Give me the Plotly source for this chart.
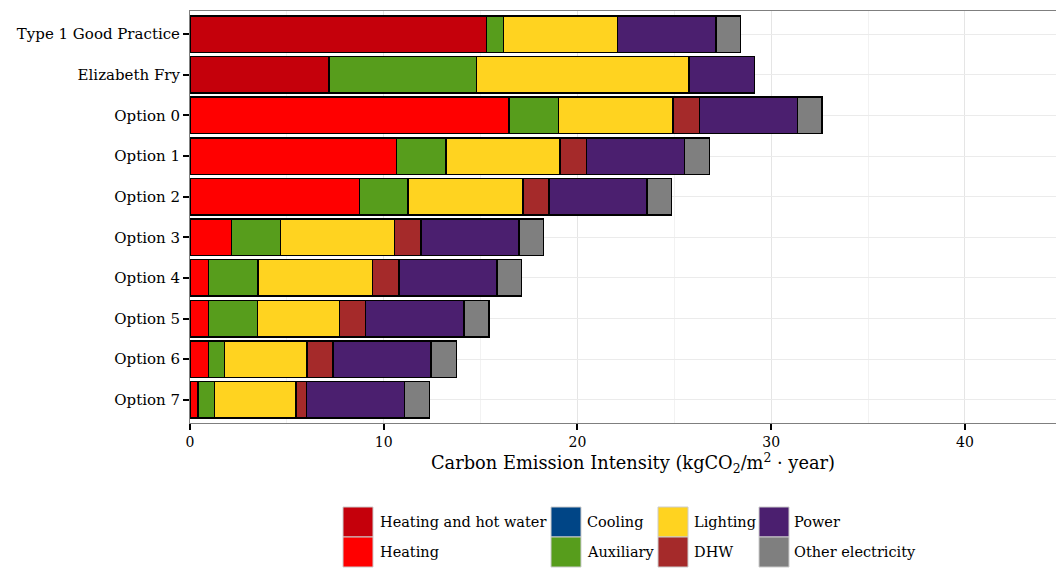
import plotly.graph_objects as go

categories = ["Type 1 Good Practice", "Elizabeth Fry", "Option 0", "Option 1", "Option 2",
              "Option 3", "Option 4", "Option 5", "Option 6", "Option 7"]

heating_hot_water = [15.30, 7.17, None, None, None, None, None, None, None, None]
heating = [None, None, 16.47, 10.67, 8.74, 2.13, 0.96, 0.95, 0.95, 0.40]
cooling = [None, None, None, None, None, None, None, None, None, None]
auxiliary = [0.87, 7.61, 2.54, 2.54, 2.52, 2.55, 2.54, 2.54, 0.84, 0.86]
lighting = [5.90, 10.97, 5.91, 5.89, 5.93, 5.88, 5.91, 4.23, 4.25, 4.21]
dhw = [None, None, 1.37, 1.37, 1.34, 1.37, 1.37, 1.35, 1.34, 0.55]
power = [5.07, 3.38, 5.06, 5.06, 5.07, 5.06, 5.06, 5.07, 5.06, 5.06]
other_electricity = [1.28, None, 1.28, 1.28, 1.26, 1.26, 1.26, 1.29, 1.31, 1.29]

x_ticks = [0, 10, 20, 30, 40]

series = [
    ("Heating and hot water", heating_hot_water, "#c5000b"),
    ("Heating", heating, "#ff0000"),
    ("Cooling", cooling, "#004586"),
    ("Auxiliary", auxiliary, "#579d1c"),
    ("Lighting", lighting, "#ffd320"),
    ("DHW", dhw, "#a52a2a"),
    ("Power", power, "#4b1f6f"),
    ("Other electricity", other_electricity, "#7f7f7f"),
]

FONT = "DejaVu Serif"
W, H = 1056, 568
L, R, T, B = 190, 0, 11, 145
PW, PH = W - L - R, H - T - B

fig = go.Figure()
for name, vals, col in series:
    fig.add_trace(go.Bar(
        y=categories, x=vals, name=name, orientation="h",
        marker=dict(color=col, line=dict(color="black", width=1.5)),
        width=0.9, showlegend=False,
    ))

def px_x(p):
    return (p - L) / PW

def px_y(p):
    return (H - B - p) / PH

# manual legend (column-major, 2 rows)
col_key_x = [343, 551, 658, 759]
col_txt_x = [377.5, 585, 692, 792]
row_top = [507, 537]
key_w, key_h = 30, 30
shapes = []
annotations = []
for i, (name, vals, col) in enumerate(series):
    c, r = i // 2, i % 2
    x0 = col_key_x[c]
    y0 = row_top[r]
    shapes.append(dict(type="rect", xref="paper", yref="paper",
                       x0=px_x(x0), x1=px_x(x0 + key_w),
                       y0=px_y(y0 + key_h), y1=px_y(y0),
                       fillcolor=col, line=dict(color="#cccccc", width=1)))
    annotations.append(dict(xref="paper", yref="paper", x=px_x(col_txt_x[c]),
                            y=px_y(y0 + key_h / 2), text=name, showarrow=False,
                            xanchor="left", yanchor="middle",
                            font=dict(family=FONT, size=14.5, color="black")))

annotations.append(dict(xref="paper", yref="paper", x=px_x(633), y=px_y(463),
                        text="Carbon Emission Intensity (kgCO<sub>2</sub>/m<sup>2</sup> · year)",
                        showarrow=False, xanchor="center", yanchor="middle",
                        font=dict(family=FONT, size=17.8, color="black")))

fig.update_layout(
    width=W, height=H,
    margin=dict(l=L, r=R, t=T, b=B),
    barmode="stack",
    plot_bgcolor="white", paper_bgcolor="white",
    font=dict(family=FONT, color="black"),
    shapes=shapes, annotations=annotations,
    showlegend=False,
)
fig.update_xaxes(
    range=[0, 44.7], tickvals=x_ticks, ticktext=[str(v) for v in x_ticks],
    showgrid=True, gridcolor="#e5e5e5", gridwidth=1,
    minor=dict(dtick=5, tick0=0, showgrid=True, gridcolor="#f2f2f2", gridwidth=1),
    showline=True, linecolor="#7f7f7f", linewidth=1, mirror=True,
    ticks="outside", ticklen=6, tickwidth=1.5, tickcolor="black",
    tickfont=dict(family=FONT, size=14, color="black"),
    zeroline=False,
)
fig.update_yaxes(
    type="category", categoryorder="array", categoryarray=categories,
    range=[9.57, -0.57],
    showgrid=True, gridcolor="#ebebeb", gridwidth=1,
    showline=True, linecolor="#7f7f7f", linewidth=1, mirror=False,
    ticks="outside", ticklen=6, tickwidth=1.5, tickcolor="black",
    tickfont=dict(family=FONT, size=15, color="black"),
)

fig.write_html("out.html")
